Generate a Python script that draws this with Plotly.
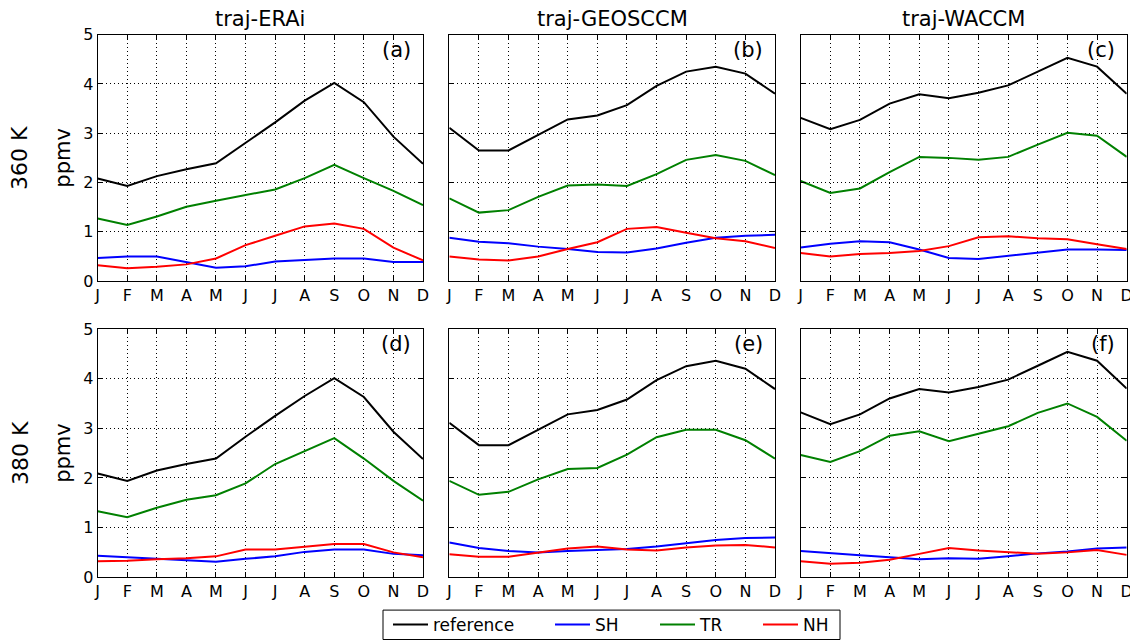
import plotly.graph_objects as go
from plotly.subplots import make_subplots

months = ["J", "F", "M", "A", "M", "J", "J", "A", "S", "O", "N", "D"]
x_pos = list(range(12))
col_titles = ["traj-ERAi", "traj-GEOSCCM", "traj-WACCM"]
row_labels = ["360 K", "380 K"]
panel_letters = [["(a)", "(b)", "(c)"], ["(d)", "(e)", "(f)"]]
series_names = ["reference", "SH", "TR", "NH"]
series_colors = ["#000000", "#0000ff", "#008000", "#ff0000"]

# 360 K
ref_a = [2.08, 1.93, 2.13, 2.27, 2.39, 2.80, 3.22, 3.66, 4.02, 3.63, 2.93, 2.38]
sh_a = [0.47, 0.50, 0.50, 0.38, 0.27, 0.30, 0.40, 0.43, 0.46, 0.46, 0.39, 0.39]
tr_a = [1.27, 1.14, 1.31, 1.51, 1.63, 1.74, 1.86, 2.09, 2.36, 2.09, 1.83, 1.54]
nh_a = [0.32, 0.26, 0.29, 0.34, 0.46, 0.73, 0.92, 1.11, 1.17, 1.06, 0.68, 0.42]

ref_b = [3.11, 2.65, 2.65, 2.96, 3.28, 3.36, 3.57, 3.96, 4.25, 4.35, 4.21, 3.80]
sh_b = [0.88, 0.80, 0.77, 0.70, 0.65, 0.59, 0.58, 0.66, 0.78, 0.88, 0.92, 0.94]
tr_b = [1.68, 1.39, 1.44, 1.71, 1.94, 1.96, 1.93, 2.17, 2.46, 2.56, 2.44, 2.15]
nh_b = [0.50, 0.44, 0.42, 0.50, 0.65, 0.79, 1.06, 1.10, 0.98, 0.87, 0.81, 0.67]

ref_c = [3.31, 3.08, 3.27, 3.60, 3.79, 3.71, 3.82, 3.97, 4.25, 4.53, 4.35, 3.80]
sh_c = [0.68, 0.76, 0.81, 0.79, 0.64, 0.47, 0.45, 0.51, 0.58, 0.64, 0.64, 0.63]
tr_c = [2.03, 1.79, 1.88, 2.21, 2.52, 2.50, 2.46, 2.52, 2.77, 3.01, 2.95, 2.52]
nh_c = [0.57, 0.50, 0.55, 0.57, 0.61, 0.71, 0.89, 0.91, 0.87, 0.85, 0.75, 0.65]

# 380 K
ref_d = [2.09, 1.94, 2.15, 2.28, 2.39, 2.83, 3.25, 3.65, 4.01, 3.63, 2.93, 2.38]
sh_d = [0.43, 0.40, 0.38, 0.34, 0.31, 0.37, 0.42, 0.51, 0.56, 0.56, 0.47, 0.44]
tr_d = [1.33, 1.21, 1.40, 1.56, 1.65, 1.89, 2.28, 2.54, 2.80, 2.39, 1.94, 1.54]
nh_d = [0.32, 0.33, 0.36, 0.38, 0.42, 0.56, 0.56, 0.61, 0.67, 0.67, 0.50, 0.40]

ref_e = [3.11, 2.66, 2.66, 2.97, 3.28, 3.37, 3.58, 3.97, 4.25, 4.36, 4.20, 3.79]
sh_e = [0.70, 0.59, 0.53, 0.50, 0.53, 0.55, 0.57, 0.62, 0.69, 0.75, 0.79, 0.80]
tr_e = [1.94, 1.66, 1.72, 1.97, 2.18, 2.20, 2.47, 2.82, 2.97, 2.97, 2.76, 2.39]
nh_e = [0.46, 0.41, 0.41, 0.50, 0.58, 0.62, 0.56, 0.54, 0.60, 0.64, 0.65, 0.60]

ref_f = [3.32, 3.08, 3.28, 3.60, 3.79, 3.72, 3.83, 3.98, 4.26, 4.54, 4.36, 3.80]
sh_f = [0.53, 0.48, 0.44, 0.40, 0.36, 0.38, 0.37, 0.42, 0.48, 0.52, 0.58, 0.60]
tr_f = [2.46, 2.32, 2.54, 2.85, 2.94, 2.74, 2.89, 3.04, 3.31, 3.50, 3.23, 2.75]
nh_f = [0.32, 0.27, 0.29, 0.35, 0.47, 0.59, 0.54, 0.50, 0.47, 0.50, 0.55, 0.45]

panels = [
    [[ref_a, sh_a, tr_a, nh_a], [ref_b, sh_b, tr_b, nh_b], [ref_c, sh_c, tr_c, nh_c]],
    [[ref_d, sh_d, tr_d, nh_d], [ref_e, sh_e, tr_e, nh_e], [ref_f, sh_f, tr_f, nh_f]],
]

# page body has an 8px margin: figure is 1130x635 placed at (8, 8)
OFF = 8
FW, FH = 1138 - OFF, 643 - OFF
FONT = "DejaVu Sans"


def px_x(p):
    return (p - OFF) / FW


def px_y(p):
    return 1 - (p - OFF) / FH


fig = make_subplots(rows=2, cols=3)

x_dom_px = [(97.7, 423.0), (449.3, 775.0), (800.7, 1126.7)]
y_dom_px = [(34.7, 282.0), (330.0, 579.0)]
legend_ids = ["legend", "legend2", "legend3", "legend4"]
legend_line_x = [393, 555, 660, 763]

for r in range(2):
    for c in range(3):
        for k in range(4):
            fig.add_trace(
                go.Scatter(
                    x=x_pos, y=panels[r][c][k], mode="lines",
                    line=dict(color=series_colors[k], width=2),
                    name=series_names[k], legendgroup=series_names[k],
                    showlegend=(r == 0 and c == 0), legend=legend_ids[k],
                ),
                row=r + 1, col=c + 1,
            )

axis_common = dict(
    showline=True, linecolor="black", linewidth=1, mirror="ticks",
    showgrid=True, gridcolor="black", gridwidth=1, griddash="1px,3px",
    ticks="inside", ticklen=5, tickcolor="black", zeroline=False,
    automargin=False,
    tickfont=dict(family=FONT, size=16, color="black"),
)

for r in range(2):
    for c in range(3):
        idx = r * 3 + c + 1
        xd = [px_x(x_dom_px[c][0]), px_x(x_dom_px[c][1])]
        yd = [px_y(y_dom_px[r][1]), px_y(y_dom_px[r][0])]
        xname = "xaxis" if idx == 1 else f"xaxis{idx}"
        yname = "yaxis" if idx == 1 else f"yaxis{idx}"
        fig.layout[xname].update(
            domain=xd, range=[0, 11], tickmode="array", tickvals=x_pos,
            ticktext=months, **axis_common,
        )
        fig.layout[yname].update(
            domain=yd, range=[0, 5], tickmode="array", tickvals=[0, 1, 2, 3, 4, 5],
            showticklabels=(c == 0), **axis_common,
        )
        if c == 0:
            fig.layout[yname].update(
                title=dict(text="ppmv", font=dict(family=FONT, size=21, color="black"), standoff=6)
            )
        # panel letter
        fig.add_annotation(
            x=px_x(x_dom_px[c][1] - 10), y=px_y(y_dom_px[r][0] + 15.5), xref="paper", yref="paper",
            xanchor="right", yanchor="middle", text=panel_letters[r][c], showarrow=False,
            font=dict(family=FONT, size=21, color="black"),
        )

# column titles
for c in range(3):
    xc = px_x((x_dom_px[c][0] + x_dom_px[c][1]) / 2)
    fig.add_annotation(
        x=xc, y=px_y(19), xref="paper", yref="paper", xanchor="center", yanchor="middle",
        text=col_titles[c], showarrow=False, font=dict(family=FONT, size=21, color="black"),
    )

# row labels
for r in range(2):
    yc = px_y((y_dom_px[r][0] + y_dom_px[r][1]) / 2)
    fig.add_annotation(
        x=px_x(20), y=yc, xref="paper", yref="paper", xanchor="center", yanchor="middle",
        text=row_labels[r], textangle=-90, showarrow=False,
        font=dict(family=FONT, size=22, color="black"),
    )

# legend frame
fig.add_shape(
    type="rect", xref="paper", yref="paper",
    x0=px_x(383), x1=px_x(840), y0=px_y(641.5), y1=px_y(612),
    line=dict(color="black", width=1), fillcolor="white", layer="below",
)

legend_common = dict(
    orientation="h", xanchor="left", yanchor="middle",
    bgcolor="rgba(0,0,0,0)", borderwidth=0,
    font=dict(family=FONT, size=17, color="black"), itemwidth=35,
)
layout_legends = {}
for k, lid in enumerate(legend_ids):
    layout_legends[lid] = dict(x=px_x(legend_line_x[k] - 5), y=px_y(627), **legend_common)

fig.update_layout(
    width=FW, height=FH,
    margin=dict(l=0, r=0, t=0, b=0),
    paper_bgcolor="white", plot_bgcolor="white",
    font=dict(family=FONT, size=16, color="black"),
    showlegend=True,
    **layout_legends,
)

fig.write_html("out.html")
